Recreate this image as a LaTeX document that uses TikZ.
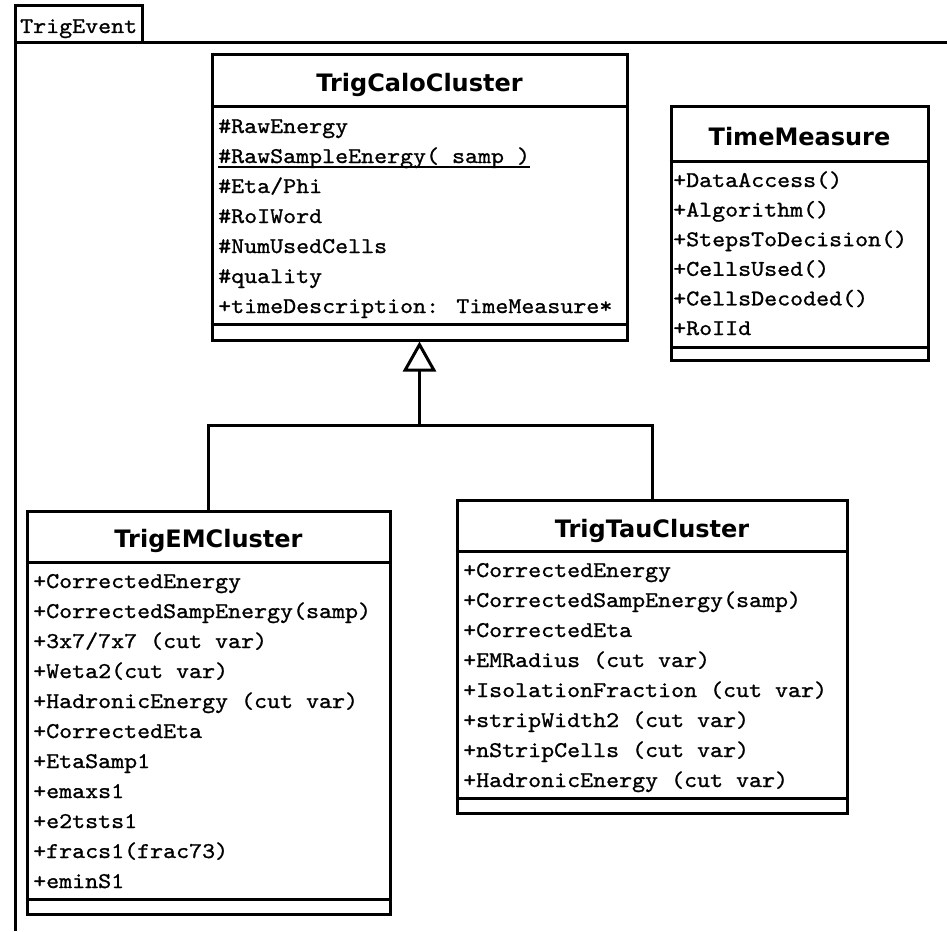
\documentclass[tikz,border=0pt]{standalone}
\usepackage{fontspec}
\newfontfamily\umltitle{DejaVu Sans}
% slab-serif typewriter face, slightly widened and darkened
\newfontfamily\umlmono[FakeStretch=1.1, FakeBold=1.0]{lmmono10-regular.otf}
\usetikzlibrary{arrows.meta,calc}

\tikzset{
  ln/.style={line width=3pt},
  classbox/.style={draw, line width=3pt, inner sep=0pt, anchor=center},
  ctitle/.style={anchor=base, inner sep=0pt, font=\umltitle\bfseries\fontsize{24}{29}\selectfont},
  attr/.style={anchor=base west, inner sep=0pt, font=\umlmono\fontsize{22.5}{30}\selectfont},
  inherit/.style={ln, -{Triangle[open, length=30pt, width=33pt, line width=3pt]}},
}

\begin{document}
\begin{tikzpicture}[x=1pt, y=-1pt]
  \fill[white, use as bounding box] (0,0) rectangle (947,931);

  % package frame with its name tab
  \node[classbox, minimum width=127pt, minimum height=37pt] (pkgtab) at (78.5,24.5) {};
  \node[attr] (pkgname) at (20,33) {TrigEvent};
  \draw[ln] (15,931) -- (15,43) -- (947,43);

  % TrigCaloCluster
  \node[classbox, minimum width=415pt, minimum height=285pt] (calo) at (419.5,197.5) {};
  \node[ctitle] (calo-title) at (419.5,92) {TrigCaloCluster};
  \draw[ln] (calo.west |- 0,107) -- (calo.east |- 0,107);
  \draw[ln] (calo.west |- 0,324) -- (calo.east |- 0,324);
  \foreach \t [count=\i from 0] in {
      {\#RawEnergy}, {\#RawSampleEnergy( samp )}, {\#Eta/Phi}, {\#RoIWord},
      {\#NumUsedCells}, {\#quality}, {+timeDescription: TimeMeasure*}}
    \node[attr] (calo-\i) at (218,133+30*\i) {\t};
  \draw[line width=1.3pt] ($(calo-1.base west)+(0,4)$) -- ($(calo-1.base east)+(0,4)$);

  % TimeMeasure
  \node[classbox, minimum width=257pt, minimum height=253pt] (tm) at (799.5,233.5) {};
  \node[ctitle] (tm-title) at (799.5,145) {TimeMeasure};
  \draw[ln] (tm.west |- 0,161) -- (tm.east |- 0,161);
  \draw[ln] (tm.west |- 0,347) -- (tm.east |- 0,347);
  \foreach \t [count=\i from 0] in {
      {+DataAccess()}, {+Algorithm()}, {+StepsToDecision()}, {+CellsUsed()},
      {+CellsDecoded()}, {+RoIId}}
    \node[attr] (tm-\i) at (673,187+29.6*\i) {\t};

  % TrigEMCluster
  \node[classbox, minimum width=363pt, minimum height=403pt] (em) at (208.5,712.5) {};
  \node[ctitle] (em-title) at (208.5,547) {TrigEMCluster};
  \draw[ln] (em.west |- 0,562) -- (em.east |- 0,562);
  \draw[ln] (em.west |- 0,899) -- (em.east |- 0,899);
  \foreach \t [count=\i from 0] in {
      {+CorrectedEnergy}, {+CorrectedSampEnergy(samp)}, {+3x7/7x7 (cut var)},
      {+Weta2(cut var)}, {+HadronicEnergy (cut var)}, {+CorrectedEta},
      {+EtaSamp1}, {+emaxs1}, {+e2tsts1}, {+fracs1(frac73)}, {+eminS1}}
    \node[attr] (em-\i) at (33,588+30*\i) {\t};

  % TrigTauCluster
  \node[classbox, minimum width=390pt, minimum height=313pt] (tau) at (652,656.5) {};
  \node[ctitle] (tau-title) at (652,537) {TrigTauCluster};
  \draw[ln] (tau.west |- 0,551) -- (tau.east |- 0,551);
  \draw[ln] (tau.west |- 0,798) -- (tau.east |- 0,798);
  \foreach \t [count=\i from 0] in {
      {+CorrectedEnergy}, {+CorrectedSampEnergy(samp)}, {+CorrectedEta},
      {+EMRadius (cut var)}, {+IsolationFraction (cut var)}, {+stripWidth2 (cut var)},
      {+nStripCells (cut var)}, {+HadronicEnergy (cut var)}}
    \node[attr] (tau-\i) at (463,577+30*\i) {\t};

  % generalisation: both clusters derive from TrigCaloCluster
  \coordinate (join) at (419.5,425);
  \draw[ln] (em.north) |- (join) -| (tau.north);
  \draw[inherit] (join) -- (calo.south);
\end{tikzpicture}
\end{document}
